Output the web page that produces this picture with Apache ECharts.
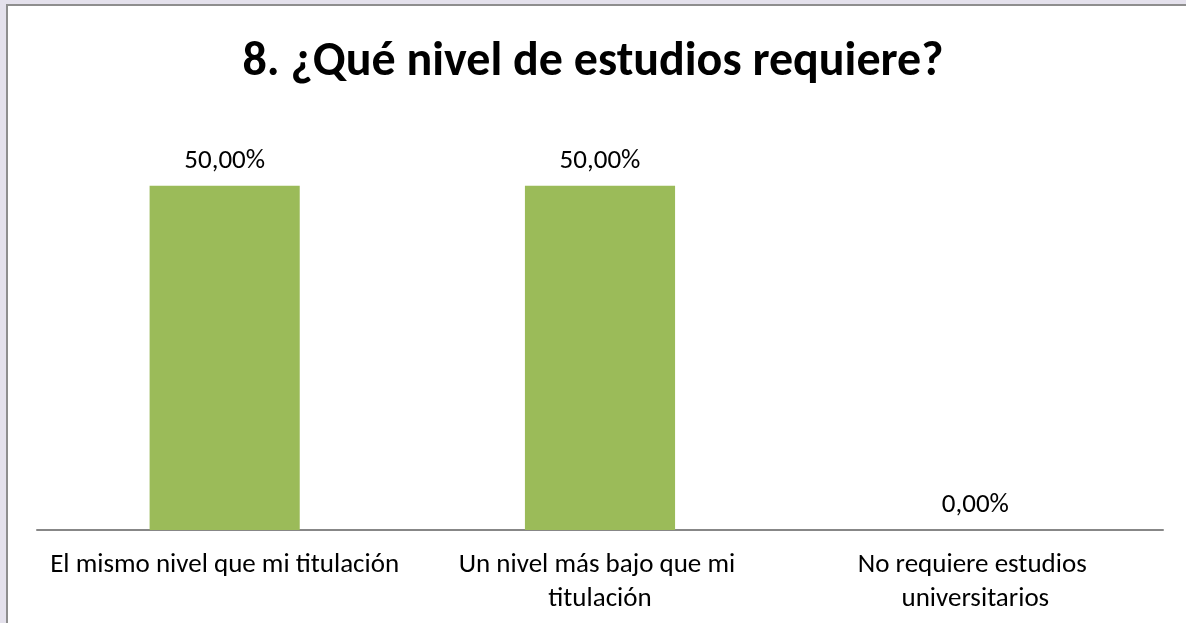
<!DOCTYPE html>
<html><head><meta charset="utf-8">
<script src="https://cdn.jsdelivr.net/npm/echarts@6/dist/echarts.min.js"></script>
<style>
html,body{margin:0;padding:0;width:1186px;height:623px;overflow:hidden;background:#e4e1ec;}
#frame{position:absolute;left:6px;top:4px;width:1186px;height:630px;background:#fff;border-left:2px solid #8e8e8e;border-top:2px solid #8e8e8e;}
#chart{position:absolute;left:-8px;top:-6px;width:1186px;height:623px;}
</style></head>
<body><div id="frame"><div id="chart"></div></div>
<script>
const titleText = '8. ¿Qué nivel de estudios requiere?';
const categories = ['El mismo nivel que mi titulación', 'Un nivel más bajo que mi titulación', 'No requiere estudios universitarios'];
const values = [50, 50, 0];
const yMax = 60;

const chart = echarts.init(document.getElementById('chart'), null, {renderer:'canvas'});
const font = 'Carlito, "Open Sans", "Noto Sans", sans-serif';
chart.setOption({
  animation:false,
  backgroundColor:'transparent',
  title:{text:titleText,left:'center',top:34,textStyle:{fontFamily:font,fontWeight:'bold',fontSize:48,color:'#000'}},
  grid:{left:37,right:23,top:117,bottom:93},
  xAxis:{type:'category',data:categories,
    axisLine:{lineStyle:{color:'#878787',width:2}},
    axisTick:{show:false},
    axisLabel:{interval:0,fontFamily:font,fontSize:27,color:'#000',margin:18,lineHeight:34,width:368,overflow:'break'}},
  yAxis:{type:'value',min:0,max:yMax,show:false,splitLine:{show:false}},
  series:[{type:'bar',data:values,barWidth:'40%',itemStyle:{color:'#9bbb59'},
    label:{show:true,position:'top',distance:11,fontFamily:font,fontSize:27,color:'#000',
      formatter:p=>p.value.toFixed(2).replace('.',',')+'%'}}]
});
</script></body></html>
